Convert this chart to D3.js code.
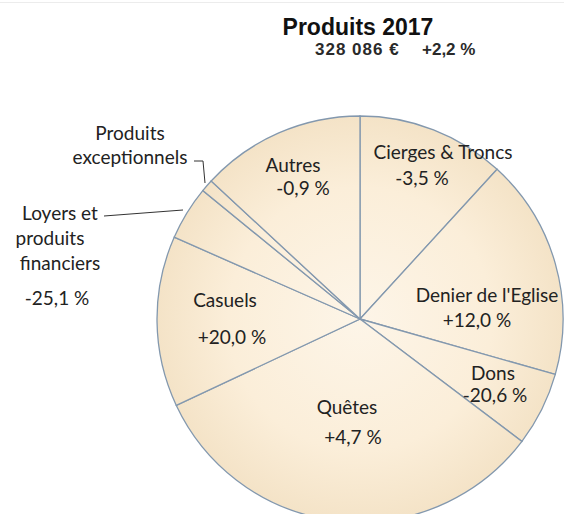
<!DOCTYPE html>
<html>
<head>
<meta charset="utf-8">
<script src="https://cdn.jsdelivr.net/npm/d3@7"></script>
<style>
  body { margin: 0; background: #fff; }
  svg { display: block; }
</style>
</head>
<body>
<div id="chart"></div>
<script>
// data (share of total, %)
var categories = ["Cierges & Troncs", "Denier de l'Eglise", "Dons", "Quêtes", "Casuels",
  "Loyers et produits financiers", "Produits exceptionnels", "Autres"];
var shares = [11.8, 17.6, 5.9, 32.7, 13.6, 4.3, 1.0, 13.1];
var changes = ["-3,5 %", "+12,0 %", "-20,6 %", "+4,7 %", "+20,0 %", "-25,1 %", "", "-0,9 %"];
var title = "Produits 2017";
var totalText = "328 086 €";
var totalChange = "+2,2 %";

var svgWidth = 564;
var svgHeight = 514;

var cx = 360, cy = 319, radius = 203;

var svg = d3.select("#chart")
  .append("svg")
  .attr("width", svgWidth)
  .attr("height", svgHeight);

// faint frame line at top of the screenshot
svg.append("line")
  .attr("x1", 0).attr("x2", svgWidth)
  .attr("y1", 2.5).attr("y2", 2.5)
  .attr("stroke", "#ececec");

// gradient in the pie group's own coordinates (centre = 0,0)
var defs = svg.append("defs");
var grad = defs.append("radialGradient")
  .attr("id", "fillGrad")
  .attr("gradientUnits", "userSpaceOnUse")
  .attr("cx", 0).attr("cy", 0).attr("r", radius);
grad.append("stop").attr("offset", "0%").attr("stop-color", "#fdf5e8");
grad.append("stop").attr("offset", "65%").attr("stop-color", "#fbeed9");
grad.append("stop").attr("offset", "100%").attr("stop-color", "#f4e3c7");

var pieData = categories.map((c, i) => ({ name: c, value: shares[i], change: changes[i] }));

var pie = d3.pie()
  .sort(null)
  .value(d => d.value);

var arc = d3.arc()
  .innerRadius(0)
  .outerRadius(radius);

var chartGroup = svg.append("g")
  .attr("transform", `translate(${cx}, ${cy})`);

chartGroup.selectAll("path")
  .data(pie(pieData))
  .enter()
  .append("path")
  .attr("d", arc)
  .attr("fill", "url(#fillGrad)")
  .attr("stroke", "#8398ae")
  .attr("stroke-width", 1.3);

// label layout (text centres, page coords)
var labelLayout = {
  "Cierges & Troncs": [[443, 152], [422, 178]],
  "Denier de l'Eglise": [[487, 295], [477, 320]],
  "Dons": [[493, 373], [495, 395]],
  "Quêtes": [[347, 407], [353, 437]],
  "Casuels": [[225, 300], [232, 337]],
  "Autres": [[293, 165], [303, 188]]
};

var labelFont = "Lato, 'Open Sans', sans-serif";
var labelSize = "19px";

function addLabel(txt, x, y) {
  svg.append("text")
    .attr("x", x).attr("y", y)
    .attr("dy", "0.35em")
    .attr("text-anchor", "middle")
    .attr("font-family", labelFont)
    .attr("font-size", labelSize)
    .attr("fill", "#222")
    .text(txt);
}

pieData.forEach(d => {
  var pos = labelLayout[d.name];
  if (!pos) return;
  addLabel(d.name, pos[0][0], pos[0][1]);
  addLabel(d.change, pos[1][0], pos[1][1]);
});

// outside labels
var loyers = pieData[5];
addLabel("Loyers et", 60, 213);
addLabel("produits", 50, 238);
addLabel("financiers", 60, 263);
addLabel(loyers.change, 57, 298);
addLabel("Produits", 130, 133);
addLabel("exceptionnels", 130, 157);

// leader lines
svg.append("polyline")
  .attr("points", "104,216 183,210")
  .attr("fill", "none")
  .attr("stroke", "#333")
  .attr("stroke-width", 1);
svg.append("polyline")
  .attr("points", "194,161 203,161 205,183")
  .attr("fill", "none")
  .attr("stroke", "#333")
  .attr("stroke-width", 1);

// titles
svg.append("text")
  .attr("x", 358).attr("y", 27)
  .attr("dy", "0.35em")
  .attr("text-anchor", "middle")
  .attr("font-family", "'Liberation Sans', Arial, sans-serif")
  .attr("font-weight", "bold")
  .attr("font-size", "23px")
  .attr("fill", "#111")
  .text(title);

svg.append("text")
  .attr("x", 315).attr("y", 49)
  .attr("dy", "0.35em")
  .attr("font-family", "'Liberation Sans', Arial, sans-serif")
  .attr("font-weight", "bold")
  .attr("font-size", "17px")
  .attr("letter-spacing", "1px")
  .attr("fill", "#2a2a2a")
  .text(totalText);

svg.append("text")
  .attr("x", 422).attr("y", 49)
  .attr("dy", "0.35em")
  .attr("font-family", "'Liberation Sans', Arial, sans-serif")
  .attr("font-weight", "bold")
  .attr("font-size", "17px")
  .attr("fill", "#2a2a2a")
  .text(totalChange);
</script>
</body>
</html>
